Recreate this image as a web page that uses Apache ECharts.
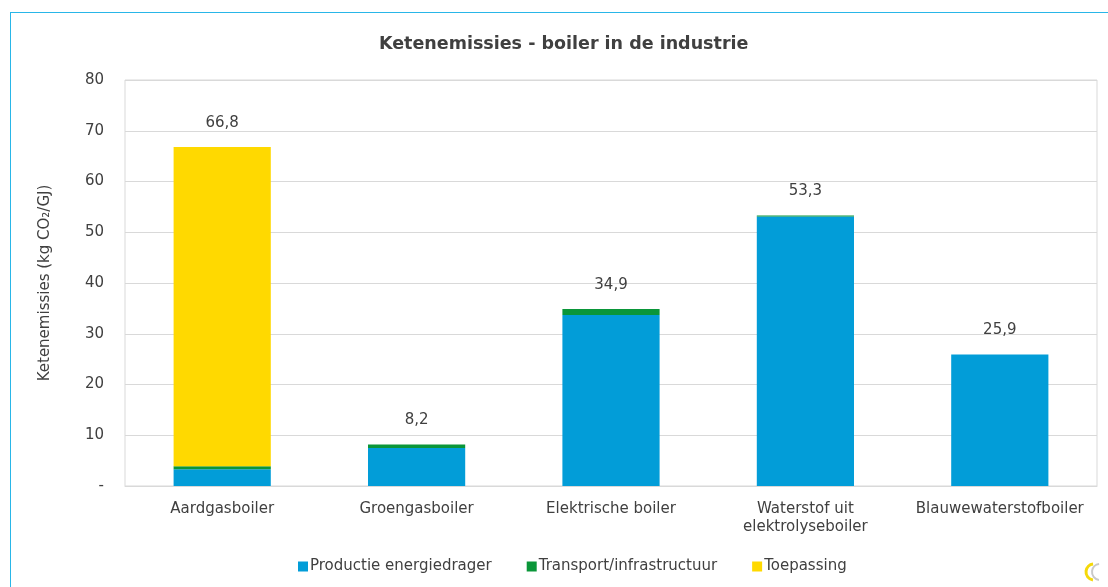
<!DOCTYPE html>
<html><head><meta charset="utf-8">
<script src="https://cdn.jsdelivr.net/npm/echarts@6/dist/echarts.min.js"></script>
<style>
html,body{margin:0;padding:0;background:#fff;overflow:hidden;}
#frame{position:absolute;left:10px;top:12px;width:1200px;height:700px;border-left:1px solid #29b6e8;border-top:1px solid #29b6e8;}
#c{position:absolute;left:0;top:0;width:1108px;height:587px;}
</style></head>
<body>
<div id="frame"></div>
<div id="c"></div>
<script>
const categories = ['Aardgasboiler','Groengasboiler','Elektrische boiler','Waterstof uit\nelektrolyseboiler','Blauwewaterstofboiler'];
const productie = [3.3, 7.5, 33.7, 53.1, 25.9];
const transport = [0.6, 0.7, 1.2, 0.2, 0];
const toepassing = [62.9, 0, 0, 0, 0];
const totals = [66.8, 8.2, 34.9, 53.3, 25.9];
const yTicks = [0,10,20,30,40,50,60,70,80];

const font = 'DejaVu Sans';
const chart = echarts.init(document.getElementById('c'));
chart.setOption({
  animation:false,
  title:{text:'Ketenemissies - boiler in de industrie',left:374,top:30,
    textStyle:{fontFamily:font,fontSize:17.5,fontWeight:'bold',color:'#404040'}},
  grid:{left:125,right:11,top:80,bottom:101,show:true,borderColor:'#d9d9d9',borderWidth:1},
  legend:{bottom:8,left:293,itemWidth:10,itemHeight:10,itemGap:35,icon:'rect',
    data:['Productie energiedrager','Transport/infrastructuur','Toepassing'],
    textStyle:{fontFamily:font,fontSize:15,color:'#404040',padding:[0,0,0,-3]}},
  xAxis:{type:'category',data:categories,
    axisLine:{lineStyle:{color:'#d9d9d9'}},axisTick:{show:false},
    axisLabel:{interval:0,fontFamily:font,fontSize:15,color:'#404040',margin:14,lineHeight:18}},
  yAxis:{type:'value',min:0,max:80,interval:10,
    name:'Ketenemissies (kg CO\u2082/GJ)',nameLocation:'middle',nameGap:72,
    nameTextStyle:{fontFamily:font,fontSize:15,color:'#404040'},
    axisLine:{show:false},axisTick:{show:false},
    splitLine:{lineStyle:{color:'#d9d9d9'}},
    axisLabel:{fontFamily:font,fontSize:15,color:'#404040',margin:21,align:'right',
      formatter:v=> yTicks.indexOf(v)===0 ? '-' : String(v)}},
  series:[
    {name:'Productie energiedrager',type:'bar',stack:'s',barWidth:'50%',data:productie,itemStyle:{color:'#029dd8'}},
    {name:'Transport/infrastructuur',type:'bar',stack:'s',data:transport,itemStyle:{color:'#0a9639'}},
    {name:'Toepassing',type:'bar',stack:'s',data:toepassing,itemStyle:{color:'#ffd900'}},
    {name:'totaal',type:'line',data:totals,symbol:'circle',symbolSize:1,showSymbol:true,
      itemStyle:{color:'rgba(0,0,0,0)'},lineStyle:{width:0,color:'rgba(0,0,0,0)'},silent:true,z:10,
      label:{show:true,position:'top',distance:16,fontFamily:font,fontSize:15,color:'#404040',opacity:1,
        formatter:p=>p.value.toFixed(1).replace('.',',')}}
  ],
  graphic:[
    {type:'arc',shape:{cx:1094,cy:572,r:8,startAngle:1.7,endAngle:4.6},style:{stroke:'#f5d90a',lineWidth:3,fill:null}},
    {type:'arc',shape:{cx:1100,cy:572,r:8,startAngle:1.7,endAngle:4.6},style:{stroke:'#c9c9c9',lineWidth:2,fill:null}}
  ]
});
</script>
</body></html>
